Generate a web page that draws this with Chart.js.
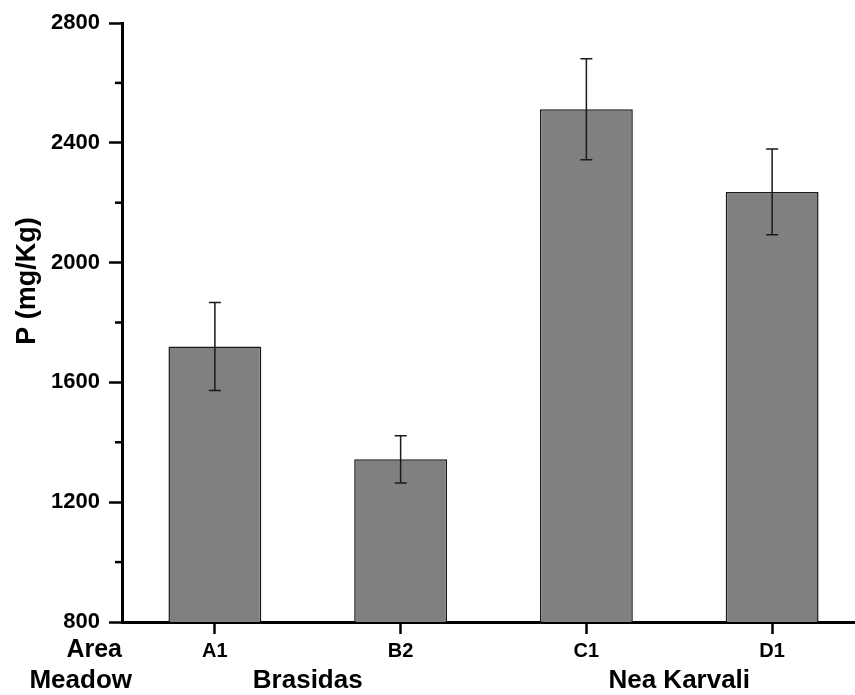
<!DOCTYPE html>
<html>
<head>
<meta charset="utf-8">
<script src="https://cdn.jsdelivr.net/npm/chart.js@4.4.1/dist/chart.umd.min.js"></script>
<style>
  html, body { margin: 0; padding: 0; background: #fff; overflow: hidden; }
  #wrap { width: 855px; height: 695px; overflow: hidden; }
</style>
</head>
<body>
<div id="wrap"><canvas id="chart" width="880" height="695"></canvas></div>
<script>
// data
const areas = ["A1", "B2", "C1", "D1"];
const meadows = ["Brasidas", "Nea Karvali"];
const phosphorus = [1720, 1343, 2512, 2236];
const phosphorusErr = [147, 79, 169, 143];
const yTicks = [800, 1200, 1600, 2000, 2400, 2800];
const yMinorTicks = [1000, 1400, 1800, 2200, 2600];

const FONT = "'Liberation Sans', Arial, sans-serif";

// error bars, minor ticks, row captions and y title
const extras = {
  id: "extras",
  afterDatasetsDraw(chart) {
    const { ctx, scales: { x, y } } = chart;
    ctx.save();
    ctx.strokeStyle = "#1a1a1a";
    ctx.lineWidth = 1.5;
    phosphorus.forEach((v, i) => {
      const px = x.getPixelForValue(i);
      const top = y.getPixelForValue(v + phosphorusErr[i]);
      const bot = y.getPixelForValue(v - phosphorusErr[i]);
      ctx.beginPath();
      ctx.moveTo(px, top); ctx.lineTo(px, bot);
      ctx.moveTo(px - 6, top); ctx.lineTo(px + 6, top);
      ctx.moveTo(px - 6, bot); ctx.lineTo(px + 6, bot);
      ctx.stroke();
    });
    ctx.restore();
  },
  afterDraw(chart) {
    const { ctx, scales: { y }, chartArea } = chart;
    ctx.save();
    ctx.strokeStyle = "#000";
    ctx.lineWidth = 2.5;
    yMinorTicks.forEach(v => {
      const py = y.getPixelForValue(v);
      ctx.beginPath();
      ctx.moveTo(chartArea.left - 7, py);
      ctx.lineTo(chartArea.left, py);
      ctx.stroke();
    });
    ctx.fillStyle = "#000";
    ctx.font = "bold 25px " + FONT;
    ctx.textAlign = "right";
    ctx.textBaseline = "middle";
    ctx.fillText("Area", 122, 650);
    ctx.font = "bold 26px " + FONT;
    ctx.fillText("Meadow", 132, 681);
    ctx.translate(28, 281);
    ctx.rotate(-Math.PI / 2);
    ctx.textAlign = "center";
    ctx.font = "bold 27px " + FONT;
    ctx.fillText("P (mg/Kg)", 0, 0);
    ctx.restore();
  }
};

new Chart(document.getElementById("chart"), {
  type: "bar",
  data: {
    labels: areas,
    datasets: [{
      data: phosphorus,
      backgroundColor: "#808080",
      borderColor: "#1a1a1a",
      borderWidth: 1.5,
      barPercentage: 0.5,
      categoryPercentage: 1.0
    }]
  },
  options: {
    responsive: false,
    animation: false,
    layout: { padding: { top: 23, right: 15, left: 0, bottom: 0 } },
    plugins: { legend: { display: false }, tooltip: { enabled: false } },
    scales: {
      x: {
        position: "bottom",
        offset: true,
        grid: { offset: false, drawOnChartArea: false, tickLength: 12, tickWidth: 2.5, tickColor: "#000" },
        border: { color: "#000", width: 3 },
        ticks: { color: "#000", padding: 5, font: { family: FONT, size: 20, weight: "bold" } },
        afterFit: s => { s.height = 42; }
      },
      x2: {
        type: "category",
        position: "bottom",
        labels: meadows,
        offset: true,
        grid: { display: false, drawTicks: false },
        border: { display: false },
        ticks: { color: "#000", padding: 1, font: { family: FONT, size: 26, weight: "bold" } },
        afterFit: s => { s.height = 31; }
      },
      y: {
        min: 800,
        max: 2800,
        afterBuildTicks: s => { s.ticks = yTicks.map(v => ({ value: v })); },
        grid: { drawOnChartArea: false, tickLength: 13, tickWidth: 2.5, tickColor: "#000" },
        border: { color: "#000", width: 3 },
        ticks: { color: "#000", padding: 9, font: { family: FONT, size: 22, weight: "bold" }, callback: v => String(v) },
        afterFit: s => { s.width = 122; }
      }
    }
  },
  plugins: [extras]
});
</script>
</body>
</html>
